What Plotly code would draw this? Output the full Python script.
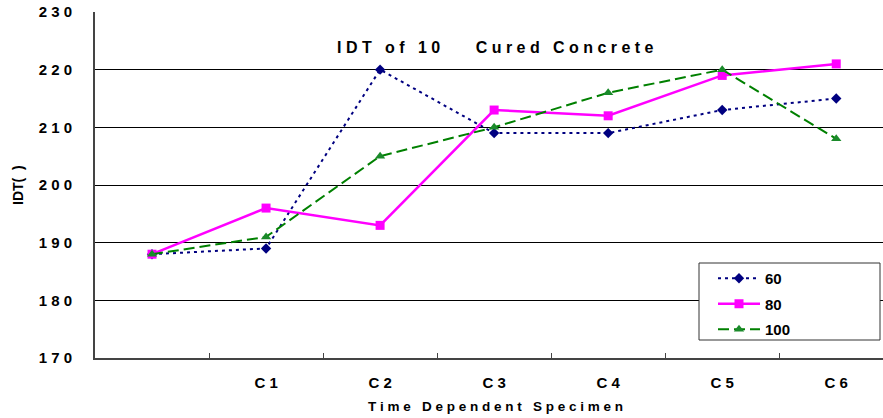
import plotly.graph_objects as go

categories = [" ", "C 1", "C 2", "C 3", "C 4", "C 5", "C 6"]
s60 = [188, 189, 220, 209, 209, 213, 215]
s80 = [188, 196, 193, 213, 212, 219, 221]
s100 = [188, 191, 205, 210, 216, 220, 208]
y_ticks = [170, 180, 190, 200, 210, 220, 230]
y_tick_text = ["1 7 0", "1 8 0", "1 9 0", "2 0 0", "2 1 0", "2 2 0", "2 3 0"]

FONT = "Liberation Sans, Arial, sans-serif"

# plot-area pixel geometry (for placing text in paper coordinates)
L, R, T, B = 95, 883, 12, 358
def px(x):
    return (x - L) / (R - L)
def py(y):
    return (B - y) / (B - T)

fig = go.Figure()
fig.add_trace(go.Scatter(x=categories, y=s60, name="60", mode="lines+markers",
                         legendgroup="a",
                         line=dict(color="#000080", width=2, dash="3px,4px"),
                         marker=dict(symbol="diamond", size=8, color="#000080")))
fig.add_trace(go.Scatter(x=categories, y=s80, name="80", mode="lines+markers",
                         legendgroup="b",
                         line=dict(color="#FF00FF", width=2.5),
                         marker=dict(symbol="square", size=9, color="#FF00FF")))
fig.add_trace(go.Scatter(x=categories, y=s100, name="100", mode="lines+markers",
                         legendgroup="c",
                         line=dict(color="#008000", width=2, dash="11px,5px"),
                         marker=dict(symbol="triangle-up", size=9, color="#1a8a2a")))

fig.update_layout(
    width=883, height=418,
    margin=dict(l=L, r=0, t=T, b=418 - B),
    paper_bgcolor="white", plot_bgcolor="white",
    font=dict(family=FONT, color="black"),
    showlegend=True,
    legend=dict(x=px(713), y=py(262), xanchor="left", yanchor="top",
                bgcolor="rgba(0,0,0,0)", borderwidth=0,
                font=dict(size=15, family=FONT, weight="bold", color="black"),
                itemwidth=42, tracegroupgap=3),
    xaxis=dict(type="category", categoryorder="array", categoryarray=categories,
               range=[-0.5, 6.41], showgrid=False, zeroline=False,
               showline=True, linecolor="#444", linewidth=2,
               tickson="boundaries", ticks="inside", ticklen=5, tickcolor="#444",
               ticklabelstandoff=10,
               tickfont=dict(size=15, family=FONT, weight="bold", color="black")),
    yaxis=dict(range=[170, 230], tickvals=y_ticks, ticktext=y_tick_text, showgrid=True,
               gridcolor="black", gridwidth=1, zeroline=False,
               showline=True, linecolor="#444", linewidth=2, ticks="",
               ticklabelstandoff=18,
               tickfont=dict(size=15, family=FONT, weight="bold", color="black")),
    shapes=[dict(type="rect", xref="paper", yref="paper",
                 x0=px(699), x1=px(880), y0=py(340), y1=py(263),
                 line=dict(color="#333", width=1), fillcolor="white", layer="above")],
)
fig.add_annotation(text="I D T   o f   1 0        C u r e d   C o n c r e t e",
                   x=px(495), y=py(47), xref="paper", yref="paper", showarrow=False,
                   xanchor="center", yanchor="middle",
                   font=dict(size=16, family=FONT, weight="bold", color="black"))
fig.add_annotation(text="T i m e   D e p e n d e n t   S p e c i m e n",
                   x=px(495), y=py(406), xref="paper", yref="paper", showarrow=False,
                   xanchor="center", yanchor="middle",
                   font=dict(size=13.5, family=FONT, weight="bold", color="black"))
fig.add_annotation(text="IDT(  )", textangle=-90,
                   x=px(18), y=py(185), xref="paper", yref="paper", showarrow=False,
                   xanchor="center", yanchor="middle",
                   font=dict(size=14, family=FONT, weight="bold", color="black"))

fig.write_html("out.html")
